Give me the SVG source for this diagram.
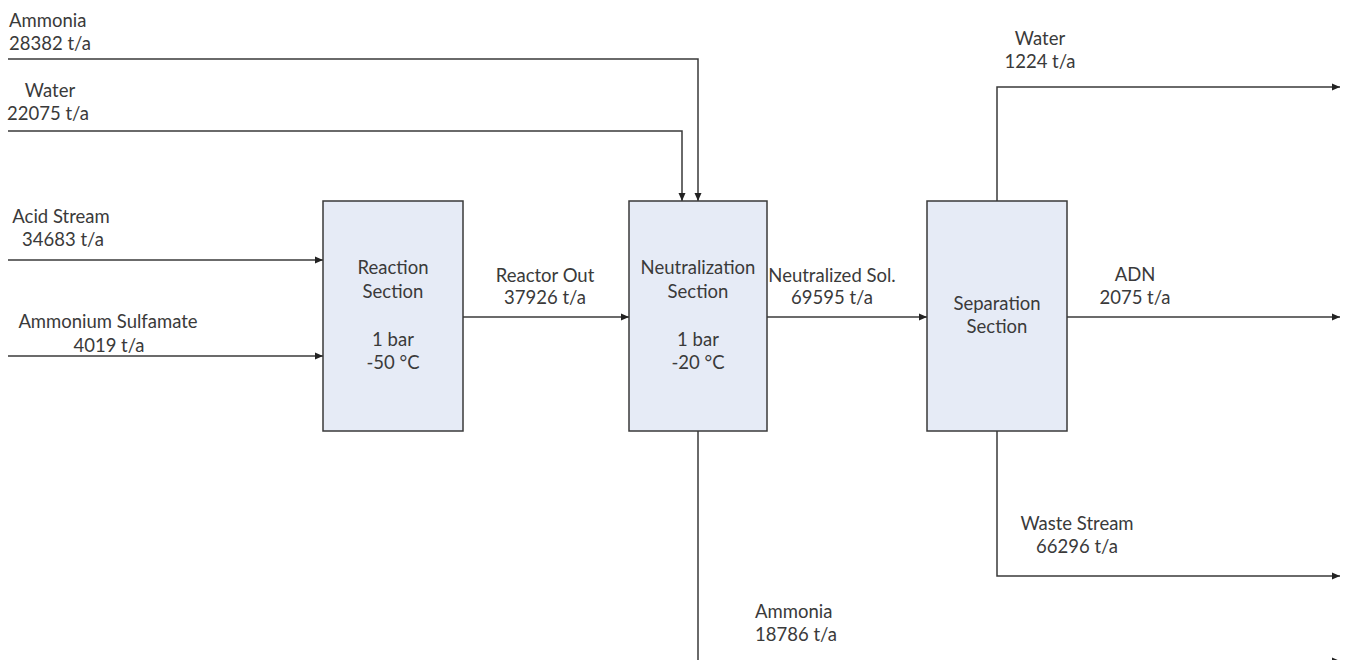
<svg xmlns="http://www.w3.org/2000/svg" width="1348" height="660" viewBox="0 0 1348 660">
<defs>
<style>
text{font-family:Lato,"Open Sans","Liberation Sans",sans-serif;font-size:18.5px;fill:#3a3a3a}
.c{text-anchor:middle}
.box{fill:#e6ebf6;stroke:#3a3a3a;stroke-width:1.5}
.ln{fill:none;stroke:#3a3a3a;stroke-width:1.5}
</style>
<marker id="ah" viewBox="0 0 8 8" refX="8" refY="4" markerWidth="8" markerHeight="8" markerUnits="userSpaceOnUse" orient="auto">
<path d="M0,0.5 L8,4 L0,7.5 Z" fill="#222"/>
</marker>
</defs>
<rect width="1348" height="660" fill="#fff"/>
<g id="connectors">
<polyline class="ln" points="8,59 698,59 698,201" marker-end="url(#ah)"/>
<polyline class="ln" points="8,131 682,131 682,201" marker-end="url(#ah)"/>
<line class="ln" x1="8" y1="260" x2="323" y2="260" marker-end="url(#ah)"/>
<line class="ln" x1="8" y1="356" x2="323" y2="356" marker-end="url(#ah)"/>
<line class="ln" x1="463" y1="317" x2="629" y2="317" marker-end="url(#ah)"/>
<line class="ln" x1="767" y1="317" x2="927" y2="317" marker-end="url(#ah)"/>
<polyline class="ln" points="997,201 997,87 1340,87" marker-end="url(#ah)"/>
<line class="ln" x1="1067" y1="317" x2="1340" y2="317" marker-end="url(#ah)"/>
<polyline class="ln" points="997,431 997,576 1340,576" marker-end="url(#ah)"/>
<polyline class="ln" points="698,431 698,661 1340,661" marker-end="url(#ah)"/>
</g>
<g id="reaction">
<rect class="box" x="323" y="201" width="140" height="230"/>
<text class="c" x="393" y="274">Reaction</text>
<text class="c" x="393" y="298">Section</text>
<text class="c" x="393" y="346">1 bar</text>
<text class="c" x="393" y="369">-50 °C</text>
</g>
<g id="neutralization">
<rect class="box" x="629" y="201" width="138" height="230"/>
<text class="c" x="698" y="274">Neutralization</text>
<text class="c" x="698" y="298">Section</text>
<text class="c" x="698" y="346">1 bar</text>
<text class="c" x="698" y="369">-20 °C</text>
</g>
<g id="separation">
<rect class="box" x="927" y="201" width="140" height="230"/>
<text class="c" x="997" y="310">Separation</text>
<text class="c" x="997" y="333">Section</text>
</g>
<g id="labels">
<text x="9" y="27">Ammonia</text>
<text x="9" y="50">28382 t/a</text>
<text class="c" x="50" y="97">Water</text>
<text class="c" x="48" y="120">22075 t/a</text>
<text class="c" x="61" y="223">Acid Stream</text>
<text class="c" x="63" y="246">34683 t/a</text>
<text class="c" x="108" y="328">Ammonium Sulfamate</text>
<text class="c" x="109" y="352">4019 t/a</text>
<text class="c" x="545" y="282">Reactor Out</text>
<text class="c" x="545" y="304">37926 t/a</text>
<text class="c" x="832" y="282">Neutralized Sol.</text>
<text class="c" x="832" y="304">69595 t/a</text>
<text class="c" x="1040" y="45">Water</text>
<text class="c" x="1040" y="68">1224 t/a</text>
<text class="c" x="1135" y="281">ADN</text>
<text class="c" x="1135" y="304">2075 t/a</text>
<text class="c" x="1077" y="530">Waste Stream</text>
<text class="c" x="1077" y="553">66296 t/a</text>
<text x="755" y="618">Ammonia</text>
<text x="755" y="641">18786 t/a</text>
</g>
</svg>
